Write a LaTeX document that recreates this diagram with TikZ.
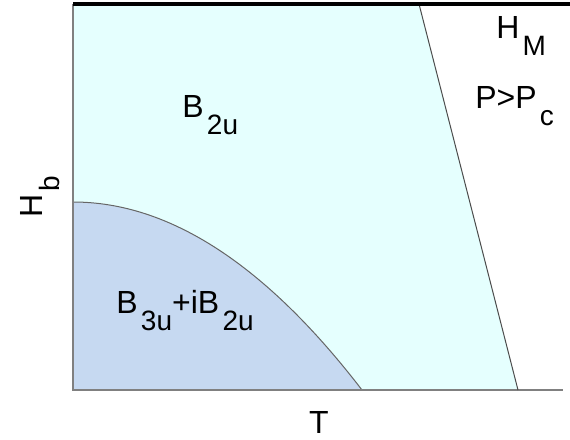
\documentclass[tikz,border=0pt]{standalone}
\usepackage{fontspec}
\setmainfont{Liberation Sans}
\definecolor{paleCyan}{RGB}{229,255,254}
\definecolor{paleBlue}{RGB}{198,217,241}
\newcommand{\lowsub}[1]{\kern2.5pt\raisebox{-13pt}{\fontsize{21}{21}\selectfont #1}}
\tikzset{
    phase label/.style={inner sep=0pt, font=\fontsize{24}{28}\selectfont},
    axis line/.style={draw=gray, line width=0.9pt},
    phase line/.style={draw=black!70, line width=0.75pt}
}
\begin{document}
\begin{tikzpicture}[x=0.75pt, y=-0.75pt]
    \useasboundingbox (0,0) rectangle (570,439);
    \coordinate (O) at (73, 390);
    \coordinate (TL) at (73, 4);
    \coordinate (TR) at (570, 4);
    \coordinate (BR) at (563, 390);
    \coordinate (HM1) at (419, 4);
    \coordinate (HM2) at (518, 390);
    \coordinate (C1) at (73, 202);
    \coordinate (C2) at (362, 390);

    % B2u region
    \fill [paleCyan] (TL) -- (HM1) -- (HM2) -- (O) -- cycle;
    % B3u+iB2u region
    \fill [paleBlue] (O) -- (C1) .. controls (169.3, 202) and (265.7, 264.7) .. (C2) -- cycle;
    \draw [gray!80!black, line width=0.75pt]
        (C1) .. controls (169.3, 202) and (265.7, 264.7) .. (C2);

    \draw [axis line] (TL) -- (O) -- (BR);
    \draw [phase line] (HM1) -- (HM2);
    \draw [black, line width=3pt] (TL) -- (TR);

    \node [phase label, anchor=base west] (b2u) at (182, 117) {B\lowsub{2u}};
    \node [phase label, anchor=base west] (mixed) at (116, 313) {B\lowsub{3u}+iB\lowsub{2u}};
    \node [phase label, anchor=base west] (hm) at (496, 38) {H\lowsub{M}};
    \node [phase label, anchor=base west] (pc) at (475, 108) {P>P\lowsub{c}};
    \node [phase label, anchor=base] (tlab) at (319, 433) {T};
    \node [phase label, anchor=base west, rotate=90] (hb) at (42, 218) {H\lowsub{b}};
\end{tikzpicture}
\end{document}
